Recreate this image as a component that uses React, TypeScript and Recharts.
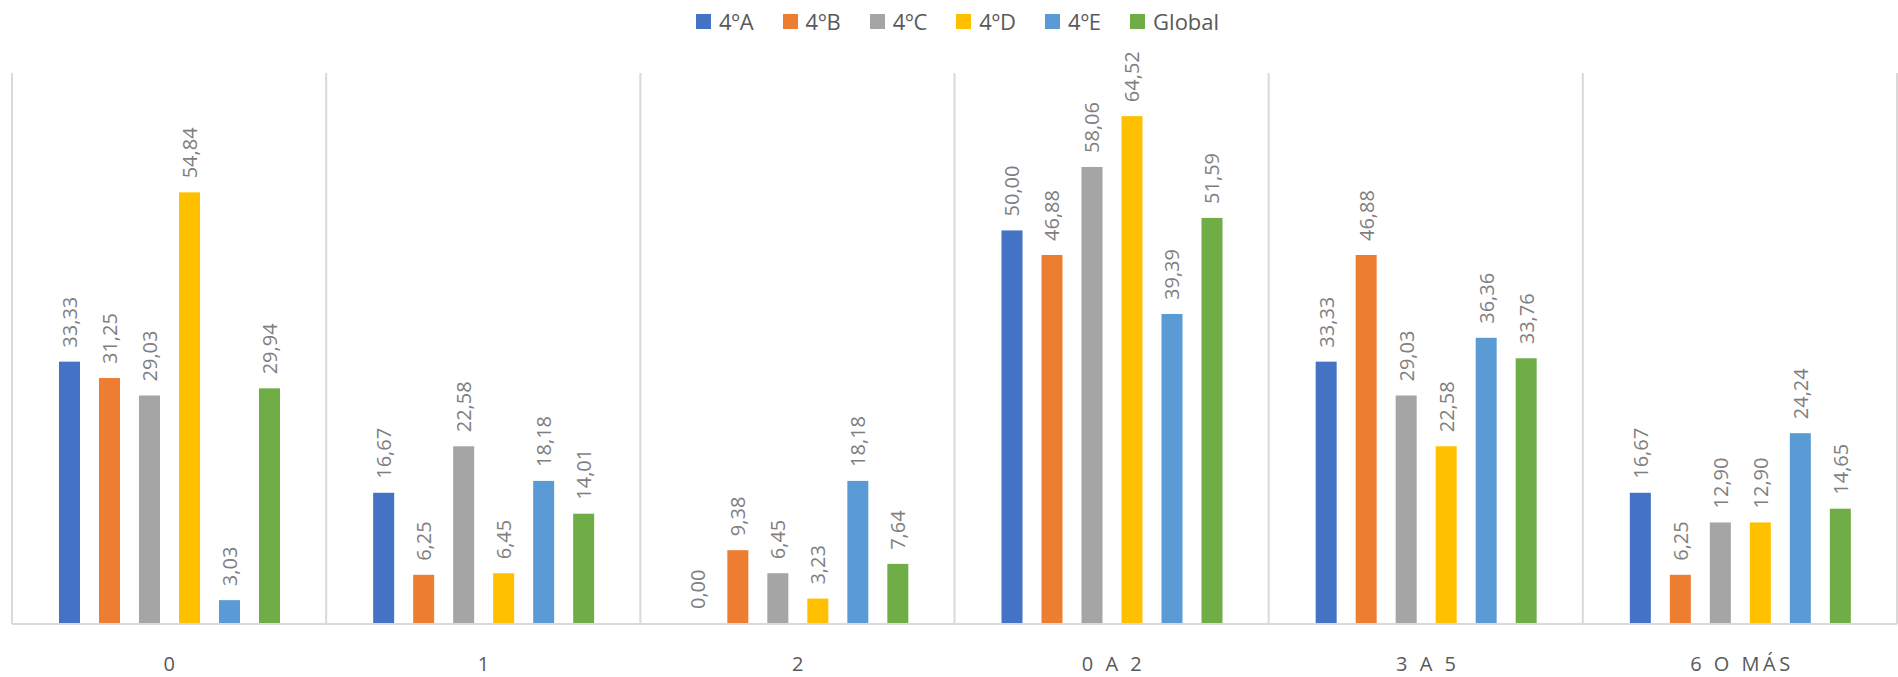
import { BarChart, Bar, XAxis, YAxis, CartesianGrid, Legend } from "recharts";

const categories = ["0", "1", "2", "0 A 2", "3 A 5", "6 O MÁS"];
const seriesNames = ["4ºA", "4ºB", "4ºC", "4ºD", "4ºE", "Global"];
const colors = ["#4472C4", "#ED7D31", "#A5A5A5", "#FFC000", "#5B9BD5", "#70AD47"];

const grupoA = [33.33, 16.67, 0.0, 50.0, 33.33, 16.67];
const grupoB = [31.25, 6.25, 9.38, 46.88, 46.88, 6.25];
const grupoC = [29.03, 22.58, 6.45, 58.06, 29.03, 12.9];
const grupoD = [54.84, 6.45, 3.23, 64.52, 22.58, 12.9];
const grupoE = [3.03, 18.18, 18.18, 39.39, 36.36, 24.24];
const global = [29.94, 14.01, 7.64, 51.59, 33.76, 14.65];

const seriesValues = [grupoA, grupoB, grupoC, grupoD, grupoE, global];

const data = categories.map((name, i) => {
  const row: Record<string, string | number> = { name };
  seriesNames.forEach((s, j) => {
    row[s] = seriesValues[j][i];
  });
  return row;
});

const FONT = "'Open Sans', sans-serif";
const LABEL_GAP = 14;

function fmt(v: number) {
  return v.toFixed(2).replace(".", ",");
}

function ValueLabel(props: any) {
  const { x, y, width, height, value } = props;
  const top = Math.min(Number(y), Number(y) + Number(height || 0));
  const cx = Number(x) + Number(width) / 2;
  const ty = top - LABEL_GAP;
  return (
    <text
      x={cx}
      y={ty}
      transform={`rotate(-90, ${cx}, ${ty})`}
      textAnchor="start"
      dominantBaseline="central"
      fontSize={20}
      fontFamily={FONT}
      fill="#7F7F7F"
    >
      {fmt(Number(value))}
    </text>
  );
}

// zero values keep a 1px placeholder so the label is drawn, but no visible bar
function BarShape(props: any) {
  const { x, y, width, height, fill, payload, dataKey } = props;
  if (payload && payload[dataKey] === 0) return <g />;
  return <rect x={x} y={y} width={width} height={height} fill={fill} />;
}

function CategoryTick(props: any) {
  const { x, y, payload } = props;
  return (
    <text
      x={x + 2}
      y={y + 31}
      textAnchor="middle"
      dominantBaseline="central"
      fontSize={20}
      fontFamily={FONT}
      fill="#595959"
      style={{ letterSpacing: 3.5 }}
    >
      {payload.value}
    </text>
  );
}

function LegendContent() {
  return (
    <div style={{ height: 73, display: "flex", justifyContent: "center", paddingTop: 7, paddingLeft: 6, boxSizing: "border-box", fontFamily: FONT }}>
      {seriesNames.map((s, i) => (
        <div key={s} style={{ display: "flex", alignItems: "center", height: 28, marginRight: i < seriesNames.length - 1 ? 29 : 0 }}>
          <span style={{ width: 15, height: 15, background: colors[i], display: "inline-block", marginRight: 8 }} />
          <span style={{ fontSize: 22, color: "#595959" }}>{s}</span>
        </div>
      ))}
    </div>
  );
}

export default function App() {
  return (
    <div style={{ width: 1898, height: 677, background: "#fff" }}>
      <style>{"body{margin:0}"}</style>
      <BarChart
        width={1898}
        height={677}
        data={data}
        margin={{ top: 0, right: 1, left: 12, bottom: 0 }}
        barSize={21}
        barGap={19}
      >
        <CartesianGrid
          horizontal={false}
          stroke="#D9D9D9"
          strokeWidth={2}
          verticalCoordinatesGenerator={({ offset }: any) =>
            categories.map((_, i) => offset.left + (i * offset.width) / categories.length).concat(offset.left + offset.width)
          }
        />
        <XAxis
          dataKey="name"
          height={53}
          axisLine={{ stroke: "#D9D9D9", strokeWidth: 2 }}
          tickLine={false}
          tick={<CategoryTick />}
          interval={0}
        />
        <YAxis hide domain={[0, 70]} />
        <Legend verticalAlign="top" content={<LegendContent />} />
        {seriesNames.map((s, i) => (
          <Bar
            key={s}
            dataKey={s}
            fill={colors[i]}
            isAnimationActive={false}
            minPointSize={(v: any) => (Number(v) === 0 ? 1 : 0)}
            shape={<BarShape />}
            label={<ValueLabel />}
          />
        ))}
      </BarChart>
    </div>
  );
}
